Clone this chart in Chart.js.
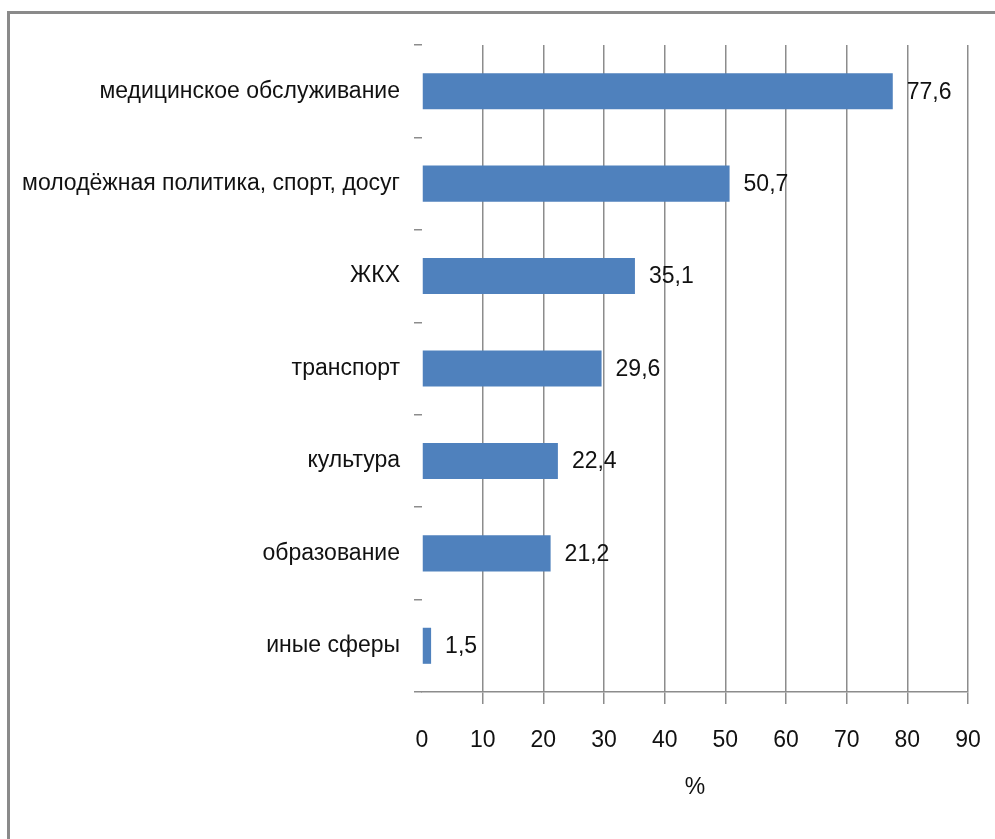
<!DOCTYPE html>
<html>
<head>
<meta charset="utf-8">
<script src="https://cdn.jsdelivr.net/npm/chart.js@4"></script>
<style>
  html, body { margin: 0; padding: 0; background: #fff; }
  #wrap { position: relative; width: 995px; height: 839px; overflow: hidden; }
  #frame { position: absolute; left: 7px; top: 11px; width: 1100px; height: 900px;
           border-top: 3px solid #8a8a8a; border-left: 3px solid #8a8a8a; }
  #myChart { position: absolute; left: 0; top: 0; }
</style>
</head>
<body>
<div id="wrap">
  <div id="frame"></div>
  <canvas id="myChart" width="995" height="839"></canvas>
</div>
<script>
// categories, top to bottom
var categories = [
    'медицинское обслуживание',
    'молодёжная политика, спорт, досуг',
    'ЖКХ',
    'транспорт',
    'культура',
    'образование',
    'иные сферы'
];
var values = [77.6, 50.7, 35.1, 29.6, 22.4, 21.2, 1.5];
var xTicks = [0, 10, 20, 30, 40, 50, 60, 70, 80, 90];
var axisTitle = '%';

var FONT = '"Liberation Sans", Arial, sans-serif';
var GRID = '#8c8c8c';

// value labels to the right of each bar
var valueLabels = {
    id: 'valueLabels',
    afterDatasetsDraw: function (chart) {
        var ctx = chart.ctx;
        var meta = chart.getDatasetMeta(0);
        ctx.save();
        ctx.font = '23px ' + FONT;
        ctx.fillStyle = '#111';
        ctx.textAlign = 'left';
        ctx.textBaseline = 'middle';
        meta.data.forEach(function (bar, i) {
            var txt = values[i].toFixed(1).replace('.', ',');
            ctx.fillText(txt, bar.x + 14, bar.y + 1);
        });
        ctx.restore();
    }
};

var ctx = document.getElementById('myChart').getContext('2d');

var chart = new Chart(ctx, {
    type: 'bar',
    data: {
        labels: categories,
        datasets: [{
            data: values,
            backgroundColor: '#4F81BD',
            borderWidth: 0,
            categoryPercentage: 1,
            barPercentage: 0.39
        }]
    },
    options: {
        indexAxis: 'y',
        responsive: false,
        animation: false,
        devicePixelRatio: 1,
        layout: { padding: { top: 45, right: 27, left: 0, bottom: 0 } },
        plugins: {
            legend: { display: false },
            tooltip: { enabled: false }
        },
        scales: {
            x: {
                min: 0,
                max: 90,
                afterBuildTicks: function (scale) {
                    scale.ticks = xTicks.map(function (v) { return { value: v }; });
                },
                grid: {
                    color: function (c) { return c.tick && c.tick.value === 0 ? 'rgba(0,0,0,0)' : GRID; },
                    lineWidth: 1.5,
                    tickLength: 12
                },
                border: { display: true, color: GRID, width: 1.5 },
                ticks: {
                    color: '#111',
                    font: { family: FONT, size: 23 },
                    padding: 23
                },
                title: {
                    display: true,
                    text: axisTitle,
                    color: '#111',
                    font: { family: FONT, size: 23 },
                    padding: { top: 0, bottom: 38 }
                },
                afterFit: function (scale) {
                    scale.height = 839 - 692;
                    scale.paddingRight = 0;
                    scale.paddingLeft = 0;
                }
            },
            y: {
                grid: {
                    drawOnChartArea: false,
                    offset: true,
                    color: GRID,
                    lineWidth: 1.5,
                    tickLength: 8
                },
                border: { display: false },
                ticks: {
                    color: '#111',
                    font: { family: FONT, size: 23 },
                    padding: 14
                },
                afterFit: function (scale) { scale.width = 422; }
            }
        }
    },
    plugins: [valueLabels]
});
</script>
</body>
</html>
